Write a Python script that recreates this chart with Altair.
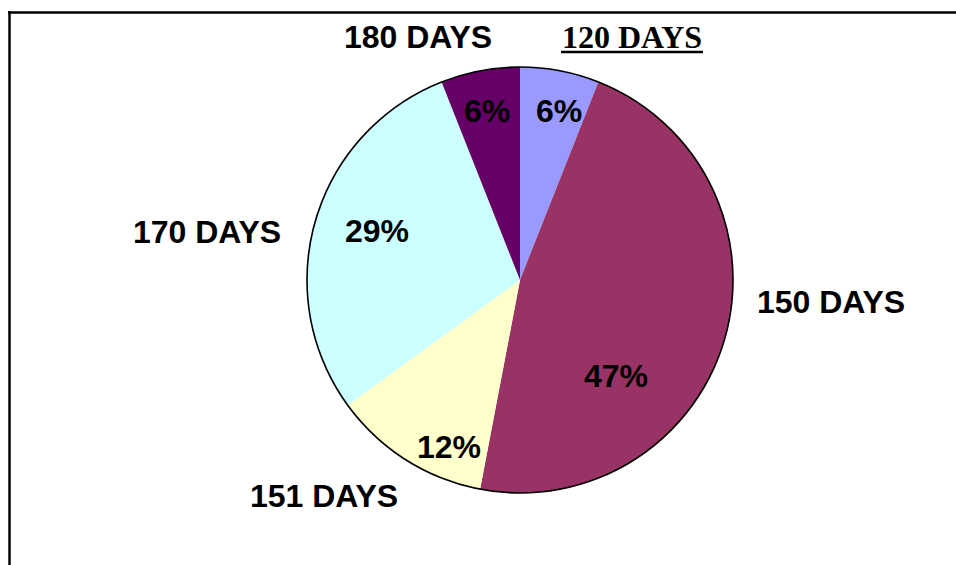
import math
import altair as alt
import pandas as pd

# Share of cases by duration, clockwise from 12 o'clock
categories = ["120 DAYS", "150 DAYS", "151 DAYS", "170 DAYS", "180 DAYS"]
shares = [6, 47, 12, 29, 6]
colors = ["#9999FF", "#993366", "#FFFFCC", "#CCFFFF", "#660066"]

W, H = 956, 565
CX, CY, R = 520, 280, 213
FONT_SIZE = 32

# label anchors (pixel layout): centre x, baseline y
pct_pos = [(559, 122), (616, 387), (449, 458), (377, 242), (487, 122)]
name_pos = [(632, 48), (831, 313), (324, 507), (207, 243), (418, 48)]

slices = pd.DataFrame({
    "category": categories,
    "share": shares,
    "order": list(range(len(categories))),
})

pct_labels = pd.DataFrame({
    "text": [f"{v}%" for v in shares],
    "px": [p[0] for p in pct_pos],
    "py": [p[1] for p in pct_pos],
})
name_labels = pd.DataFrame({
    "text": categories,
    "px": [p[0] for p in name_pos],
    "py": [p[1] for p in name_pos],
    "serif": [c == "120 DAYS" for c in categories],
})

pie = alt.Chart(slices).mark_arc(radius=R, strokeWidth=0).encode(
    theta=alt.Theta("share:Q", stack=True),
    order=alt.Order("order:Q"),
    color=alt.Color("category:N", scale=alt.Scale(domain=categories, range=colors), legend=None),
    x=alt.value(CX),
    y=alt.value(CY),
)

outline = alt.Chart(slices.head(1)).mark_arc(
    radius=R, theta=0, theta2=2 * math.pi, fillOpacity=0, stroke="black", strokeWidth=1.6
).encode(x=alt.value(CX), y=alt.value(CY))

pct_text = alt.Chart(pct_labels).mark_text(
    font="Liberation Sans", fontSize=FONT_SIZE, fontWeight="bold", color="black",
    align="center", baseline="alphabetic",
).encode(
    x=alt.X("px:Q", scale=None), y=alt.Y("py:Q", scale=None), text="text:N"
)

sans_names = alt.Chart(name_labels[~name_labels["serif"]]).mark_text(
    font="Liberation Sans", fontSize=FONT_SIZE, fontWeight="bold", color="black",
    align="center", baseline="alphabetic",
).encode(
    x=alt.X("px:Q", scale=None), y=alt.Y("py:Q", scale=None), text="text:N"
)

serif_names = alt.Chart(name_labels[name_labels["serif"]]).mark_text(
    font="Liberation Serif", fontSize=FONT_SIZE, fontWeight="bold", color="black",
    align="center", baseline="alphabetic",
).encode(
    x=alt.X("px:Q", scale=None), y=alt.Y("py:Q", scale=None), text="text:N"
)

# underline beneath the serif label
underline = alt.Chart(slices.head(1)).mark_rule(color="black", strokeWidth=2.5).encode(
    x=alt.value(561), x2=alt.value(703), y=alt.value(52)
)

# chart frame: top and left edges
frame_top = alt.Chart(slices.head(1)).mark_rule(color="black", strokeWidth=2.5).encode(
    x=alt.value(8), x2=alt.value(W), y=alt.value(12.5)
)
frame_left = alt.Chart(slices.head(1)).mark_rule(color="black", strokeWidth=2.5).encode(
    x=alt.value(9.5), y=alt.value(11), y2=alt.value(H)
)

chart = alt.layer(
    pie, outline, pct_text, sans_names, serif_names, underline, frame_top, frame_left
).properties(
    width=W, height=H, autosize=alt.AutoSizeParams(type="none"), padding=0, background="white"
).configure_view(stroke=None)

chart.save("out.html", embed_options={"renderer": "svg", "actions": False})
